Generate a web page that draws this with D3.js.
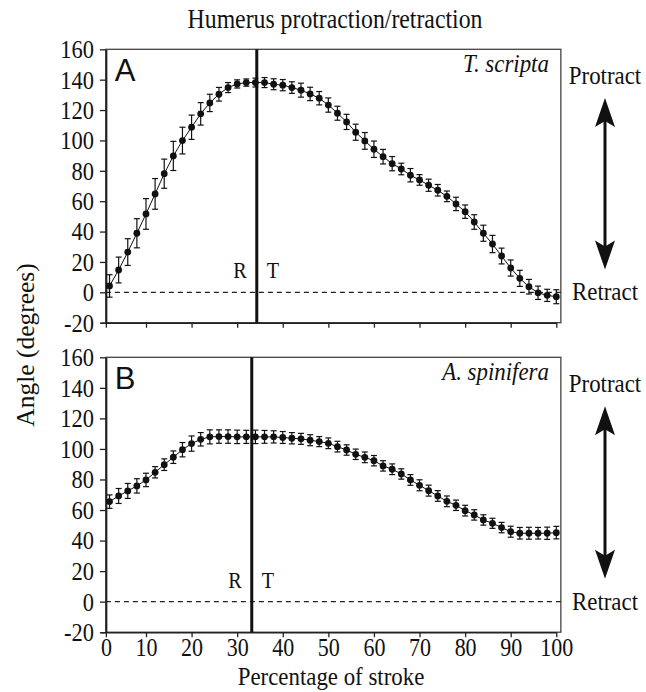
<!DOCTYPE html>
<html><head><meta charset="utf-8">
<script src="https://cdn.jsdelivr.net/npm/d3@7"></script>
<style>
body{margin:0;background:#fff} svg{display:block}
svg text{font-family:"Liberation Serif","DejaVu Serif","Times New Roman",serif;fill:#111;}
svg text.sans{font-family:"Liberation Sans","DejaVu Sans",Arial,sans-serif;}
</style>
</head><body>
<svg id="c" width="646" height="692"></svg>
<script>
// ---- data ----
const strokePct = [2,4,6,8,10,12,14,16,18,20,22,24,26,28,30,32,34,36,38,40,42,44,46,48,50,52,54,56,58,60,62,64,66,68,70,72,74,76,78,80,82,84,86,88,90,92,94,96,98,100];
const scriptaMean = [4.2,14.7,26.5,38.9,51.6,64.8,78.1,89.8,99.9,108.7,117.5,124.7,130.4,134.8,137.2,138.1,138.1,138.1,137.0,136.4,134.8,133.1,130.6,127.8,123.3,117.9,112.2,105.4,99.7,94.2,89.3,84.7,81.2,77.1,74.0,70.5,67.2,63.2,58.2,53.1,46.3,38.9,31.8,23.9,16.0,9.2,3.7,-0.3,-2.0,-2.9];
const scriptaErr = [7.4,8.5,8.8,9.6,10.1,10.1,9.6,9.6,8.8,8.0,7.4,5.7,4.5,3.3,2.7,2.4,2.9,3.3,3.6,3.7,3.8,4.6,4.4,4.4,4.7,4.6,5.0,5.3,5.5,5.4,4.8,4.7,3.8,4.4,3.5,4.0,3.8,3.5,4.4,4.4,4.8,5.3,5.7,5.2,5.3,5.3,4.8,4.4,4.0,4.6];
const spiniferaMean = [65.5,69.2,72.5,75.8,79.7,84.7,89.7,94.6,99.5,103.5,106.3,107.9,108.1,108.1,107.9,107.9,107.9,107.9,107.9,107.5,107.0,106.6,105.7,104.8,103.7,101.5,99.3,96.5,94.5,92.3,88.9,86.7,83.6,79.7,76.2,72.7,69.2,65.7,63.1,59.6,56.8,53.5,51.3,48.5,45.8,44.8,44.8,44.8,44.8,45.2];
const spiniferaErr = [4.4,4.9,4.9,4.7,4.4,3.7,3.8,4.1,4.7,5.0,4.4,4.6,4.4,4.4,4.4,4.3,4.4,4.2,4.0,3.9,3.7,3.6,3.6,3.3,3.5,3.5,3.4,3.4,3.5,3.4,3.4,3.5,3.4,3.5,3.6,3.6,3.5,3.5,3.4,3.5,3.4,3.4,3.3,3.4,3.6,3.8,3.9,3.8,4.0,4.1];
const transitionPct = [34.3, 33.2];
const panelLetters = ["A", "B"];
const speciesNames = ["T. scripta", "A. spinifera"];
const yTicks = [-20,0,20,40,60,80,100,120,140,160];
const yTickLabels = ["-20","0","20","40","60","80","100","120","140","160"];
const xTickValues = [1.2,10,20,30,40,50,60,70,80,90,100];
const xTickLabels = ["0","10","20","30","40","50","60","70","80","90","100"];
const xDomainFrame = [1.2, 101];
const yDomain = [-20, 160];

const svg = d3.select("#c");
const SX = 0.88; // horizontal compression of the type in the original figure

function label(parent, x, y, txt, size, anchor) {
  return parent.append("text")
    .attr("transform", `translate(${x},${y}) scale(${SX},1)`)
    .attr("text-anchor", anchor || "start").attr("font-size", size).text(txt);
}

const x = d3.scaleLinear().domain([0,100]).range([100.4, 556.3]);
const panels = [
  {mean: scriptaMean, err: scriptaErr, rt: transitionPct[0], letter: panelLetters[0], name: speciesNames[0], range: [322.7, 49.3], labels: false},
  {mean: spiniferaMean, err: spiniferaErr, rt: transitionPct[1], letter: panelLetters[1], name: speciesNames[1], range: [632.2, 357.3], labels: true}
];

const x0 = x(xDomainFrame[0]), x1 = x(xDomainFrame[1]);

panels.forEach(p => {
  const y = d3.scaleLinear().domain(yDomain).range(p.range);
  const g = svg.append("g");
  const yTop = y(yDomain[1]), yBot = y(yDomain[0]);

  g.append("rect").attr("x", x0).attr("y", yTop).attr("width", x1 - x0).attr("height", yBot - yTop)
    .attr("fill", "none").attr("stroke", "#444").attr("stroke-width", 1.3);

  const ya = g.append("g").attr("transform", `translate(${x0},0)`)
    .call(d3.axisLeft(y).tickValues(yTicks).tickSize(6).tickPadding(7.5).tickSizeOuter(0)
      .tickFormat((d, i) => yTickLabels[i]));
  ya.attr("font-family", null);
  ya.select(".domain").attr("stroke", "#222").attr("stroke-width", 2);
  ya.selectAll(".tick line").attr("stroke", "#222").attr("stroke-width", 1.3);
  ya.selectAll("text").attr("font-size", 25.5).attr("fill", "#111").attr("dy", "0.33em")
    .attr("transform", `scale(${SX},1)`);

  const xa = g.append("g").attr("transform", `translate(0,${yBot})`)
    .call(d3.axisBottom(x).tickValues(xTickValues).tickSize(5).tickPadding(1).tickSizeOuter(0)
      .tickFormat((d, i) => p.labels ? xTickLabels[i] : ""));
  xa.attr("font-family", null);
  xa.select(".domain").attr("stroke", "#222").attr("stroke-width", 1.5);
  xa.selectAll(".tick line").attr("stroke", "#222").attr("stroke-width", 1.3);
  xa.selectAll("text").attr("font-size", 25).attr("fill", "#111").attr("transform", `scale(${SX},1)`);

  g.append("line").attr("x1", x0).attr("x2", x1).attr("y1", y(0)).attr("y2", y(0))
    .attr("stroke", "#222").attr("stroke-width", 1.3).attr("stroke-dasharray", "5,4");

  g.append("line").attr("x1", x(p.rt)).attr("x2", x(p.rt)).attr("y1", yTop).attr("y2", yBot)
    .attr("stroke", "#111").attr("stroke-width", 3);
  label(g, x(p.rt) - 10, y(0) - 14, "R", 23, "end");
  label(g, x(p.rt) + 10, y(0) - 14, "T", 23, "start");

  const data = strokePct.map((v, i) => ({x: v, m: p.mean[i], e: p.err[i]}));

  g.append("path").datum(data).attr("fill", "none").attr("stroke", "#111").attr("stroke-width", 1)
    .attr("d", d3.line().x(d => x(d.x)).y(d => y(d.m)));

  const eb = g.append("g").attr("stroke", "#111").attr("stroke-width", 1.2);
  eb.selectAll(".v").data(data).join("line").attr("class", "v")
    .attr("x1", d => x(d.x)).attr("x2", d => x(d.x)).attr("y1", d => y(d.m - d.e)).attr("y2", d => y(d.m + d.e));
  eb.selectAll(".t").data(data).join("line").attr("class", "t")
    .attr("x1", d => x(d.x) - 3).attr("x2", d => x(d.x) + 3).attr("y1", d => y(d.m + d.e)).attr("y2", d => y(d.m + d.e));
  eb.selectAll(".b").data(data).join("line").attr("class", "b")
    .attr("x1", d => x(d.x) - 3).attr("x2", d => x(d.x) + 3).attr("y1", d => y(d.m - d.e)).attr("y2", d => y(d.m - d.e));

  g.selectAll("circle").data(data).join("circle")
    .attr("cx", d => x(d.x)).attr("cy", d => y(d.m)).attr("r", 3.4).attr("fill", "#111");

  g.append("text").attr("class", "sans").attr("x", x0 + 9).attr("y", yTop + 32).attr("font-size", 31).text(p.letter);
  label(g, x1 - 12, yTop + 23, p.name, 26, "end").attr("font-style", "italic");

  const ax = 605;
  label(g, ax, y(137), "Protract", 26, "middle");
  label(g, ax, y(0) + 8, "Retract", 26, "middle");
  const tTop = y(128), tBot = y(15);
  g.append("line").attr("x1", ax).attr("x2", ax).attr("y1", tTop + 20).attr("y2", tBot - 20)
    .attr("stroke", "#111").attr("stroke-width", 3);
  g.append("path").attr("d", `M${ax},${tTop} L${ax + 10},${tTop + 29} L${ax},${tTop + 23} L${ax - 10},${tTop + 29} Z`).attr("fill", "#111");
  g.append("path").attr("d", `M${ax},${tBot} L${ax + 10},${tBot - 29} L${ax},${tBot - 23} L${ax - 10},${tBot - 29} Z`).attr("fill", "#111");
});

svg.selectAll(".domain").attr("fill", "none");

label(svg, 335, 28, "Humerus protraction/retraction", 27, "middle");
label(svg, 331, 685, "Percentage of stroke", 26, "middle");
svg.append("text").attr("transform", "translate(34,345) rotate(-90)").attr("text-anchor", "middle")
  .attr("font-size", 25.5).text("Angle (degrees)");
</script>
</body></html>
